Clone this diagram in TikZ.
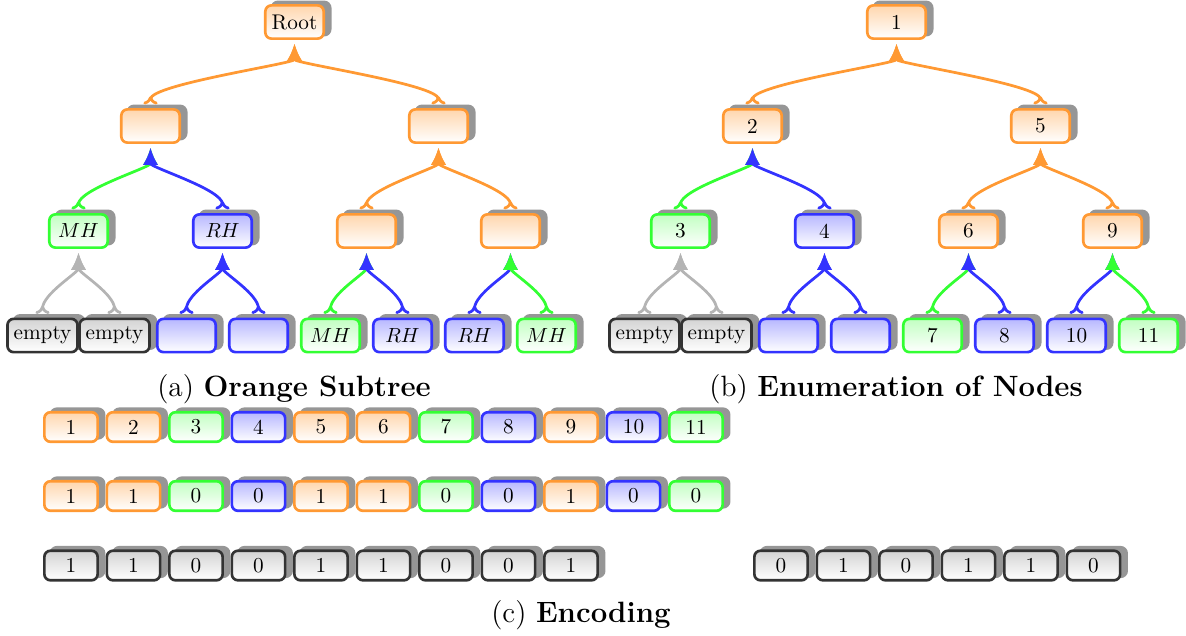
\documentclass[tikz,border=0pt]{standalone}
\usetikzlibrary{arrows.meta,shadows}
\definecolor{cOr}{RGB}{255,153,51}
\definecolor{cGr}{RGB}{51,255,51}
\definecolor{cBl}{RGB}{51,51,255}
\definecolor{cDk}{RGB}{51,51,51}
\definecolor{cGy}{RGB}{180,180,180}
\definecolor{cSh}{RGB}{150,150,150}
\colorlet{fOr}{cOr!40}
\colorlet{fGr}{cGr!30}
\colorlet{fBl}{cBl!35}
\colorlet{fDk}{black!17}
\tikzset{
  box/.style={rounded corners=3pt, line width=1.3pt, minimum width=28.6pt,
    minimum height=16.3pt, inner sep=3pt, outer sep=0pt, font=\fontsize{10.4}{12}\selectfont,
    general shadow={shadow xshift=3.2pt, shadow yshift=1.7pt, fill=cSh, draw=cSh, line width=1.3pt}},
  col/.style={draw=c#1, top color=f#1, bottom color=white},
  tn/.style={box, outer sep=2.4pt, col=#1},
  eb/.style={box, minimum width=26.1pt, minimum height=14.5pt, col=#1},
  conn/.style={line width=1.35pt, draw=c#1,
    arrows={Computer Modern Rightarrow[reversed,length=4pt,width=7pt]-Latex[length=8.5pt,width=7.5pt]}},
  captxt/.style={font=\Large, anchor=base},
}
\begin{document}
\begin{tikzpicture}[x=0.49pt,y=-0.49pt]
\useasboundingbox (0,0) rectangle (1186,636);
% ---- panel (a)
\node[tn=Or] (a0) at (294.5,22) {Root};
\node[tn=Or] (a1) at (150.5,126) {};
\node[tn=Or] (a2) at (438.5,126) {};
\node[tn=Gr] (a3) at (78.5,231) {$MH$};
\node[tn=Bl] (a4) at (222.5,231) {$RH$};
\node[tn=Or] (a5) at (366.5,231) {};
\node[tn=Or] (a6) at (510.5,231) {};
\node[tn=Dk] (a7) at (42.5,335.5) {empty};
\node[tn=Dk] (a8) at (114.5,335.5) {empty};
\node[tn=Bl] (a9) at (186.5,335.5) {};
\node[tn=Bl] (a10) at (258.5,335.5) {};
\node[tn=Gr] (a11) at (330.5,335.5) {$MH$};
\node[tn=Bl] (a12) at (402.5,335.5) {$RH$};
\node[tn=Bl] (a13) at (474.5,335.5) {$RH$};
\node[tn=Gr] (a14) at (546.5,335.5) {$MH$};
% ---- panel (b)
\node[tn=Or] (b0) at (896.5,22) {1};
\node[tn=Or] (b1) at (752.5,126) {2};
\node[tn=Or] (b2) at (1040.5,126) {5};
\node[tn=Gr] (b3) at (680.5,231) {3};
\node[tn=Bl] (b4) at (824.5,231) {4};
\node[tn=Or] (b5) at (968.5,231) {6};
\node[tn=Or] (b6) at (1112.5,231) {9};
\node[tn=Dk] (b7) at (644.5,335.5) {empty};
\node[tn=Dk] (b8) at (716.5,335.5) {empty};
\node[tn=Bl] (b9) at (788.5,335.5) {};
\node[tn=Bl] (b10) at (860.5,335.5) {};
\node[tn=Gr] (b11) at (932.5,335.5) {7};
\node[tn=Bl] (b12) at (1004.5,335.5) {8};
\node[tn=Bl] (b13) at (1076.5,335.5) {10};
\node[tn=Gr] (b14) at (1148.5,335.5) {11};
% ---- connectors
\foreach \p in {a,b}
  \foreach \ch/\pa/\cc in {1/0/Or,2/0/Or,3/1/Gr,4/1/Bl,5/2/Or,6/2/Or,7/3/Gy,8/3/Gy,
                           9/4/Bl,10/4/Bl,11/5/Gr,12/5/Bl,13/6/Bl,14/6/Gr}
    \draw[conn=\cc] (\p\ch.north) .. controls +(0,-20) and +(0,20) .. (\p\pa.south);
% ---- captions
\node[captxt] (capA) at (294,396) {(a) \textbf{Orange Subtree}};
\node[captxt] (capB) at (896,396) {(b) \textbf{Enumeration of Nodes}};
\node[captxt] (capC) at (581,622) {(c) \textbf{Encoding}};
% ---- encoding rows
\foreach \t/\c [count=\i from 0] in {1/Or,2/Or,3/Gr,4/Bl,5/Or,6/Or,7/Gr,8/Bl,9/Or,10/Bl,11/Gr}
  \node[eb=\c] (r1-\i) at ({71+62.5*\i},427) {\t};
\foreach \t/\c [count=\i from 0] in {1/Or,1/Or,0/Gr,0/Bl,1/Or,1/Or,0/Gr,0/Bl,1/Or,0/Bl,0/Gr}
  \node[eb=\c] (r2-\i) at ({71+62.5*\i},496) {\t};
\foreach \t [count=\i from 0] in {1,1,0,0,1,1,0,0,1}
  \node[eb=Dk] (r3-\i) at ({71+62.5*\i},565.5) {\t};
\foreach \t [count=\i from 0] in {0,1,0,1,1,0}
  \node[eb=Dk] (r4-\i) at ({781+62.5*\i},565.5) {\t};
\end{tikzpicture}
\end{document}
